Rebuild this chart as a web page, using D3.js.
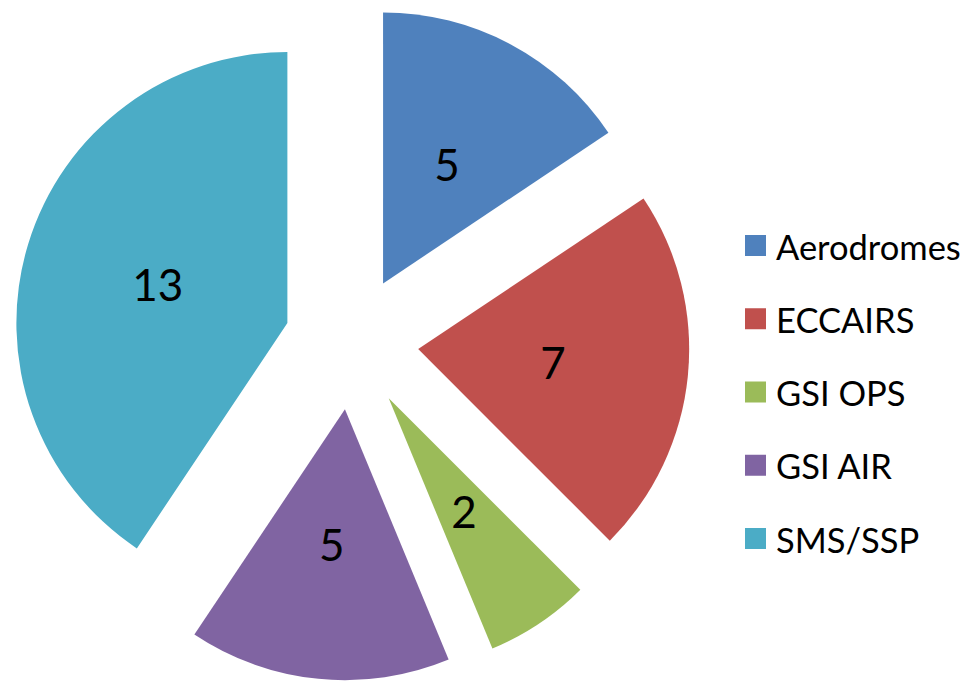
<!DOCTYPE html>
<html><head><meta charset="utf-8">
<script src="https://cdn.jsdelivr.net/npm/d3@7"></script>
<style>html,body{margin:0;padding:0;background:#fff;}svg{display:block;}</style>
</head><body>
<svg id="chart" width="967" height="681"></svg>
<script>
const categories = ["Aerodromes", "ECCAIRS", "GSI OPS", "GSI AIR", "SMS/SSP"];
const values = [5, 7, 2, 5, 13];
const colors = ["#4F81BD", "#C0504D", "#9BBB59", "#8064A2", "#4BACC6"];

const svg = d3.select("#chart");
const cx = 351.5, cy = 342.5, r = 271, explode = 67;
const font = "Lato, 'Open Sans', sans-serif";

const pie = d3.pie().sort(null).value(d => d.v);
const arcs = pie(categories.map((c, i) => ({c, v: values[i], col: colors[i]})));
const arc = d3.arc().innerRadius(0).outerRadius(r);

const g = svg.append("g").attr("transform", `translate(${cx},${cy})`);
const slice = g.selectAll("g.slice").data(arcs).join("g")
  .attr("class", "slice")
  .attr("transform", d => {
    const a = (d.startAngle + d.endAngle) / 2;
    return `translate(${explode * Math.sin(a)},${-explode * Math.cos(a)})`;
  });
slice.append("path").attr("d", arc).attr("fill", d => d.data.col);
slice.append("text")
  .attr("x", d => 0.5 * r * Math.sin((d.startAngle + d.endAngle) / 2))
  .attr("y", d => -0.5 * r * Math.cos((d.startAngle + d.endAngle) / 2))
  .attr("text-anchor", "middle").attr("dominant-baseline", "central")
  .attr("font-family", font).attr("font-size", 44).attr("fill", "#000")
  .text(d => d.data.v);

const leg = svg.append("g").selectAll("g").data(categories).join("g")
  .attr("transform", (d, i) => `translate(745,${246 + i * 73.25})`);
leg.append("rect").attr("x", 0).attr("y", -11).attr("width", 21).attr("height", 21)
  .attr("fill", (d, i) => colors[i]);
leg.append("text").attr("x", 31).attr("y", 0).attr("dominant-baseline", "central")
  .attr("font-family", font).attr("font-size", 34.5).attr("fill", "#000").text(d => d);
</script>
</body></html>
